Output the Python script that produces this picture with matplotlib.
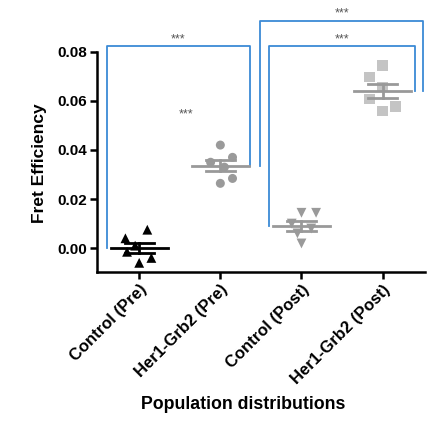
import matplotlib
matplotlib.use("Agg")
import matplotlib.pyplot as plt
import numpy as np

plt.rcParams['font.family'] = ['Liberation Sans', 'DejaVu Sans']

categories = ["Control (Pre)", "Her1-Grb2 (Pre)", "Control (Post)", "Her1-Grb2 (Post)"]
control_pre = [0.0075, 0.0040, 0.0010, -0.0015, -0.0040, -0.0060]
her1_pre = [0.0420, 0.0370, 0.0350, 0.0330, 0.0284, 0.0264]
control_post = [0.0144, 0.0144, 0.0100, 0.0080, 0.0060, 0.0019]
her1_post = [0.0744, 0.0697, 0.0658, 0.0607, 0.0577, 0.0559]
y_ticks = [0.00, 0.02, 0.04, 0.06, 0.08]
sig_label = "***"

series = [control_pre, her1_pre, control_post, her1_post]
# layout/style only
jitter = [
    [0.10, -0.17, -0.05, -0.15, 0.15, 0.0],
    [0.0, 0.15, -0.12, 0.05, 0.15, 0.0],
    [0.0, 0.18, -0.12, 0.12, -0.05, 0.0],
    [0.0, -0.16, 0.0, -0.16, 0.16, 0.0],
]
markers = ['^', 'o', 'v', 's']
colors = ['black', '#9a9a9a', '#9a9a9a', '#c4c4c4']
msizes = [50, 42, 50, 55]
blue = '#3b8ad6'

fig = plt.figure(figsize=(4.46, 4.32), dpi=100)
ax = fig.add_axes([0.2175, 0.370, 0.735, 0.510])

for i, vals in enumerate(series):
    v = np.array(vals)
    xs = i + np.array(jitter[i])
    ax.scatter(xs, v, marker=markers[i], s=msizes[i], color=colors[i],
               edgecolors='none', zorder=2)
    m = v.mean()
    se = v.std(ddof=1) / np.sqrt(len(v))
    lc = 'black' if i == 0 else '#999999'
    ax.plot([i - 0.35, i + 0.35], [m, m], color=lc, lw=2, zorder=3)
    ax.plot([i, i], [m - se, m + se], color=lc, lw=2, zorder=3)
    ax.plot([i - 0.18, i + 0.18], [m + se, m + se], color=lc, lw=2, zorder=3)
    ax.plot([i - 0.18, i + 0.18], [m - se, m - se], color=lc, lw=2, zorder=3)

means = [np.mean(s) for s in series]

def bracket(x0, x1, y0, y1, top, label, ty):
    ax.plot([x0, x0, x1, x1], [y0, top, top, y1], color=blue, lw=1.3,
            clip_on=False, zorder=1)
    ax.text((x0 + x1) / 2, ty, label, ha='center', va='center',
            fontsize=9, color='#555555', clip_on=False)

bracket(-0.40, 1.36, means[0], means[1], 0.0822, sig_label, 0.0850)
bracket(1.60, 3.40, means[2], means[3], 0.0822, sig_label, 0.0850)
bracket(1.49, 3.50, means[1], means[3], 0.0927, sig_label, 0.0956)
ax.text(0.58, 0.0545, sig_label, ha='center', va='center', fontsize=9, color='#555555')

ax.set_xlim(-0.52, 3.52)
ax.set_ylim(-0.0098, 0.08)
ax.set_yticks(y_ticks)
ax.set_yticklabels([f"{t:.2f}" for t in y_ticks], fontweight='bold', fontsize=11)
ax.set_xticks(range(len(categories)))
ax.set_xticklabels(categories, rotation=45, ha='right', rotation_mode='anchor',
                   fontweight='bold', fontsize=12)
ax.spines['top'].set_visible(False)
ax.spines['right'].set_visible(False)
ax.spines['left'].set_linewidth(1.8)
ax.spines['bottom'].set_linewidth(1.8)
ax.tick_params(axis='both', direction='out', length=5, width=1.8, pad=2)
ax.set_ylabel("Fret Efficiency", fontweight='bold', fontsize=12.5)
ax.set_xlabel("Population distributions", fontweight='bold', fontsize=12.8)
ax.xaxis.set_label_coords(0.445, -0.56)
ax.yaxis.set_label_coords(-0.152, 0.495)

fig.savefig("out.png", dpi=100)
